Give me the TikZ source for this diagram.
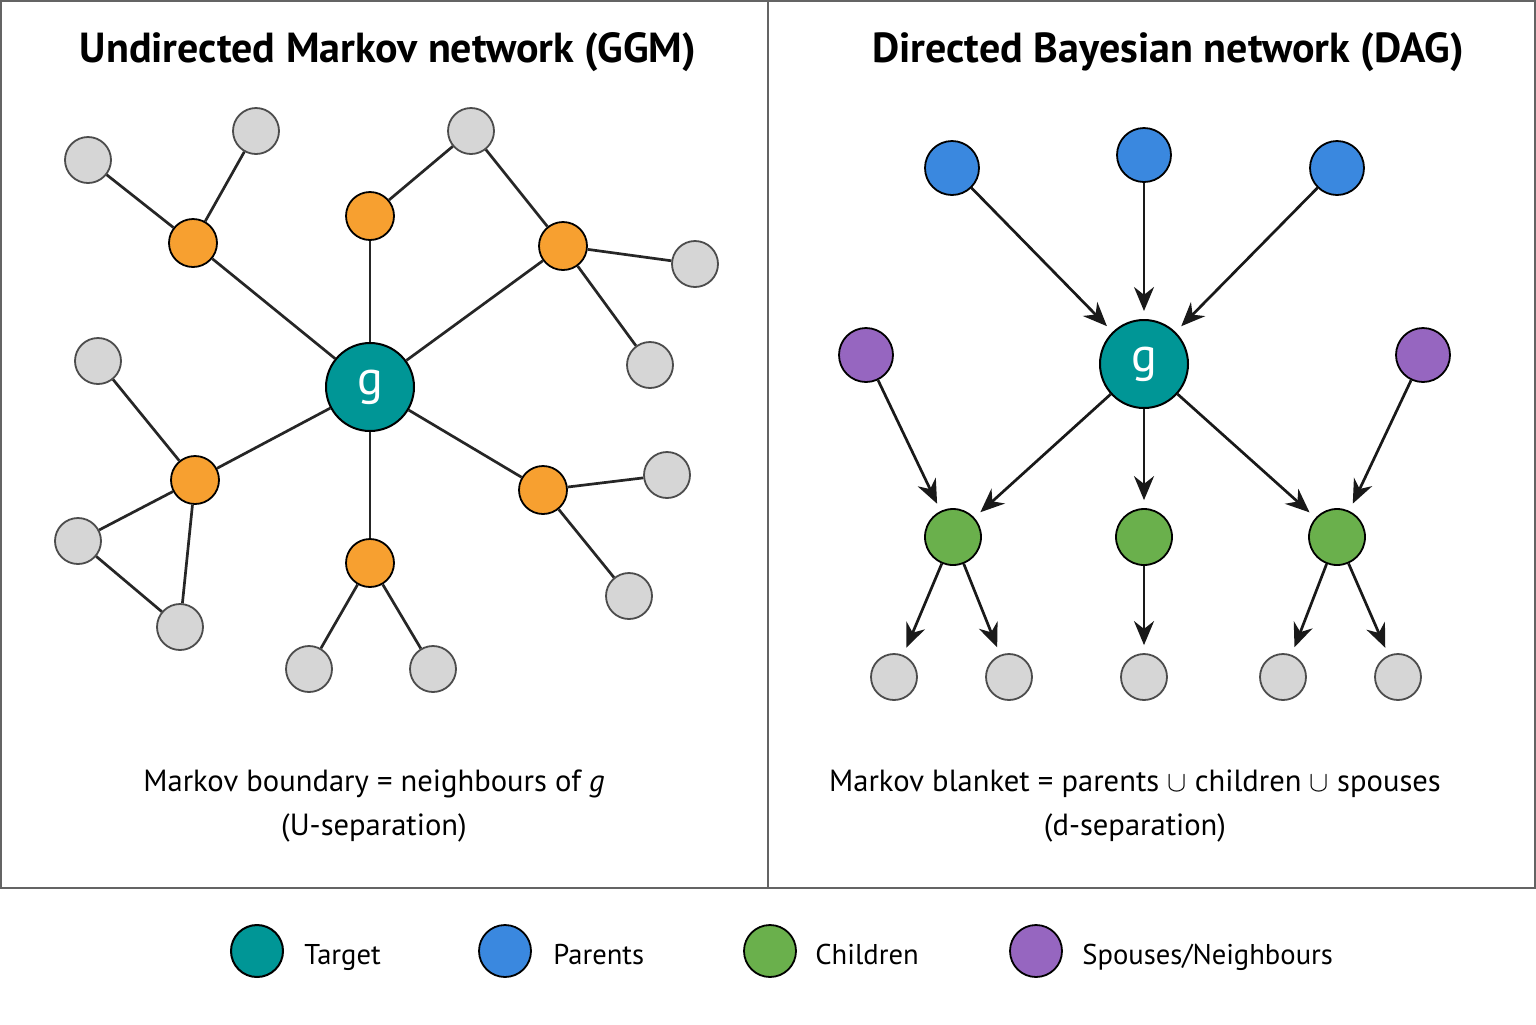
\documentclass[tikz,border=0pt]{standalone}
\usepackage{fontspec}
\setmainfont{PT Sans}
\usetikzlibrary{arrows.meta}

\definecolor{tealg}{RGB}{0,150,150}
\definecolor{orangen}{RGB}{247,160,48}
\definecolor{grayn}{RGB}{214,214,214}
\definecolor{bluep}{RGB}{58,136,223}
\definecolor{greenc}{RGB}{106,176,76}
\definecolor{purples}{RGB}{150,102,192}
\definecolor{framec}{RGB}{100,100,100}

\tikzset{
  target/.style={circle, draw=black, line width=1pt, fill=tealg, minimum size=44pt, inner sep=0pt, text=white, font=\fontsize{24}{24}\selectfont},
  nbr/.style={circle, draw=black, line width=0.9pt, fill=orangen, minimum size=24pt, inner sep=0pt},
  other/.style={circle, draw=black!70, line width=0.9pt, fill=grayn, minimum size=23pt, inner sep=0pt},
  parent/.style={circle, draw=black, line width=0.9pt, fill=bluep, minimum size=27pt, inner sep=0pt},
  spouse/.style={circle, draw=black, line width=0.9pt, fill=purples, minimum size=27pt, inner sep=0pt},
  child/.style={circle, draw=black, line width=0.9pt, fill=greenc, minimum size=28pt, inner sep=0pt},
  edge/.style={line width=1.35pt, black!85},
  arc/.style={line width=1.35pt, black!90, -{Stealth[length=12pt,width=10pt]}, shorten >=4pt},
  title/.style={font=\fontsize{21}{25}\bfseries\selectfont},
  caption/.style={font=\fontsize{15.3}{22}\selectfont, align=center},
  legtext/.style={font=\fontsize{14.3}{18}\selectfont, anchor=base west, inner sep=0pt}
}

\begin{document}
\begin{tikzpicture}[x=0.5pt,y=-0.5pt]
\useasboundingbox (0,0) rectangle (1536,1024);
\fill[white] (0,0) rectangle (1536,1024);
\draw[framec, line width=0.8pt] (1,1) rectangle (768,888);
\draw[framec, line width=0.8pt] (768,1) rectangle (1535,888);

% titles
\node[title] (t1) at (388,52) {Undirected Markov network (GGM)};
\node[title] (t2) at (1168,52) {Directed Bayesian network (DAG)};

% undirected graph
\node[target] (g1) at (370,387) {g};
\node[nbr] (o1) at (193,243) {};
\node[nbr] (o2) at (370,216) {};
\node[nbr] (o3) at (563,246) {};
\node[nbr] (o4) at (195,480) {};
\node[nbr] (o5) at (543,490) {};
\node[nbr] (o6) at (370,563) {};
\node[other] (u1) at (88,160) {};
\node[other] (u2) at (256,131) {};
\node[other] (u3) at (471,131) {};
\node[other] (u4) at (695,264) {};
\node[other] (u5) at (650,365) {};
\node[other] (u6) at (98,361) {};
\node[other] (u7) at (78,541) {};
\node[other] (u8) at (180,627) {};
\node[other] (u9) at (667,475) {};
\node[other] (u10) at (629,596) {};
\node[other] (u11) at (309,669) {};
\node[other] (u12) at (433,669) {};

\draw[edge] (g1) -- (o1);
\draw[edge] (g1) -- (o2);
\draw[edge] (g1) -- (o3);
\draw[edge] (g1) -- (o4);
\draw[edge] (g1) -- (o5);
\draw[edge] (g1) -- (o6);
\draw[edge] (o1) -- (u1);
\draw[edge] (o1) -- (u2);
\draw[edge] (o2) -- (u3);
\draw[edge] (u3) -- (o3);
\draw[edge] (o3) -- (u4);
\draw[edge] (o3) -- (u5);
\draw[edge] (o4) -- (u6);
\draw[edge] (o4) -- (u7);
\draw[edge] (o4) -- (u8);
\draw[edge] (u7) -- (u8);
\draw[edge] (o5) -- (u9);
\draw[edge] (o5) -- (u10);
\draw[edge] (o6) -- (u11);
\draw[edge] (o6) -- (u12);

\node[caption] (cap1) at (374,806) {Markov boundary = neighbours of \textit{g}\\(U-separation)};

% directed graph
\node[target] (g2) at (1144,364) {g};
\node[parent] (p1) at (952,168) {};
\node[parent] (p2) at (1144,155) {};
\node[parent] (p3) at (1337,168) {};
\node[spouse] (s1) at (866,355) {};
\node[spouse] (s2) at (1423,355) {};
\node[child] (c1) at (953,537) {};
\node[child] (c2) at (1144,537) {};
\node[child] (c3) at (1337,537) {};
\node[other] (d1) at (894,677) {};
\node[other] (d2) at (1009,677) {};
\node[other] (d3) at (1144,677) {};
\node[other] (d4) at (1283,677) {};
\node[other] (d5) at (1398,677) {};

\draw[arc] (p1) -- (g2);
\draw[arc] (p2) -- (g2);
\draw[arc] (p3) -- (g2);
\draw[arc] (g2) -- (c1);
\draw[arc] (g2) -- (c2);
\draw[arc] (g2) -- (c3);
\draw[arc] (s1) -- (c1);
\draw[arc] (s2) -- (c3);
\draw[arc] (c1) -- (d1);
\draw[arc] (c1) -- (d2);
\draw[arc] (c2) -- (d3);
\draw[arc] (c3) -- (d4);
\draw[arc] (c3) -- (d5);

\node[caption] (cap2) at (1135,806) {Markov blanket = parents $\cup$ children $\cup$ spouses\\(d-separation)};

% legend
\node[target, minimum size=26pt] (k1) at (257,951) {};
\node[legtext] (l1) at (304,964) {Target};
\node[parent, minimum size=26pt] (k2) at (505,951) {};
\node[legtext] (l2) at (553,964) {Parents};
\node[child, minimum size=26pt] (k3) at (770,951) {};
\node[legtext] (l3) at (815,964) {Children};
\node[spouse, minimum size=26pt] (k4) at (1036,951) {};
\node[legtext] (l4) at (1082,964) {Spouses/Neighbours};
\end{tikzpicture}
\end{document}
